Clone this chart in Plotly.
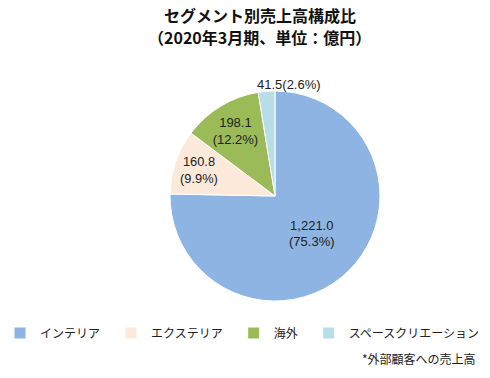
import plotly.graph_objects as go

segments = ["インテリア", "エクステリア", "海外", "スペースクリエーション"]
sales = [1221.0, 160.8, 198.1, 41.5]
colors = ["#8DB4E2", "#FDE9D9", "#9BBB59", "#B7DEE8"]
title_lines = ["セグメント別売上高構成比", "（2020年3月期、単位：億円）"]
footnote = "*外部顧客への売上高"

W, H = 490, 378
cx, cy, r = 275, 196, 105
pad = "\u2002"

total = sum(sales)
templates = ["%{value:,.1f}<br>(%{percent:.1%})"] * 3 + [""]
positions = ["inside", "inside", "inside", "none"]
small_label = f"{sales[3]:,.1f}({sales[3] / total:.1%})"

fig = go.Figure(go.Pie(
    labels=[s + pad for s in segments],
    values=sales,
    sort=False,
    direction="clockwise",
    rotation=0,
    marker=dict(colors=colors, line=dict(color="white", width=1)),
    texttemplate=templates,
    textposition=positions,
    insidetextorientation="horizontal",
    textfont=dict(size=13, color="#222222", family="Liberation Sans, Noto Sans CJK JP"),
    domain=dict(x=[(cx - r) / W, (cx + r) / W], y=[(H - cy - r) / H, (H - cy + r) / H]),
    hoverinfo="label+value+percent",
))

fig.update_layout(
    width=W, height=H,
    margin=dict(l=0, r=0, t=0, b=0),
    paper_bgcolor="white",
    plot_bgcolor="white",
    font=dict(family="Noto Sans CJK JP", color="#222222"),
    showlegend=True,
    legend=dict(
        orientation="h", x=6 / W, xanchor="left", y=1 - 333 / H, yanchor="middle",
        font=dict(size=12, color="#222222"),
        itemwidth=30,
    ),
    annotations=[
        dict(text="<b>" + title_lines[0] + "</b>", xref="paper", yref="paper",
             x=260 / W, y=1 - 15 / H, xanchor="center", yanchor="middle",
             showarrow=False, font=dict(size=16, color="#111111")),
        dict(text="<b>" + title_lines[1] + "</b>", xref="paper", yref="paper",
             x=259 / W, y=1 - 37 / H, xanchor="center", yanchor="middle",
             showarrow=False, font=dict(size=16, color="#111111")),
        dict(text=small_label, xref="paper", yref="paper",
             x=289 / W, y=1 - 84 / H, xanchor="center", yanchor="middle",
             showarrow=False,
             font=dict(size=13, color="#222222", family="Liberation Sans, Noto Sans CJK JP")),
        dict(text=footnote, xref="paper", yref="paper",
             x=478 / W, y=1 - 358 / H, xanchor="right", yanchor="middle",
             showarrow=False, font=dict(size=12, color="#222222")),
    ],
)

fig.write_html("out.html", config={"displayModeBar": False},
               post_script="document.body.style.margin='0';")
